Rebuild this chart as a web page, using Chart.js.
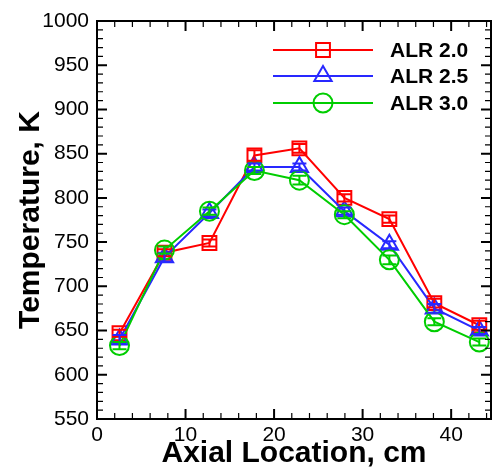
<!DOCTYPE html>
<html lang="en">
<head>
  <meta charset="UTF-8" />
  <title>Temperature vs Axial Location</title>
  <script src="https://cdn.jsdelivr.net/npm/chart.js"></script>
  <style>
    html, body { margin: 0; padding: 0; background: #fff; }
    canvas { display: block; }
  </style>
</head>
<body>
  <canvas id="chart" width="493" height="472"></canvas>

  <script>
    // measurement stations along the axis (cm)
    const axialLocation = [2.54, 7.62, 12.7, 17.78, 22.86, 27.94, 33.02, 38.1, 43.18];

    // temperatures (K) for each ALR
    const alr20 = [647, 738, 749, 848, 856, 800, 776, 681, 656];
    const alr25 = [640, 733, 783, 835, 835, 785, 747, 675, 650];
    const alr30 = [633, 741, 785, 831, 820, 781, 730, 660, 637];

    // half-width of the error bars (K)
    const err20 = [4, 4, 4, 6, 5, 4, 4, 5, 5];
    const err25 = [5, 5, 4, 4, 4, 4, 4, 5, 4];
    const err30 = [4, 4, 4, 4, 5, 4, 5, 4, 4];

    const seriesNames = ['ALR 2.0', 'ALR 2.5', 'ALR 3.0'];

    const FONT = "'Liberation Sans', Arial, sans-serif";
    const RED = 'rgb(255,0,0)';
    const BLUE = 'rgb(40,40,255)';
    const GREEN = 'rgb(0,205,0)';

    function pts(ys) {
      return ys.map((y, i) => ({ x: axialLocation[i], y: y }));
    }

    // same shapes as chart.js point styles, for the legend
    function drawMarker(ctx, style, x, y, r) {
      ctx.beginPath();
      if (style === 'rect') {
        const s = Math.SQRT1_2 * r;
        ctx.rect(x - s, y - s, 2 * s, 2 * s);
      } else if (style === 'triangle') {
        let rad = 0;
        ctx.moveTo(x + Math.sin(rad) * r, y - Math.cos(rad) * r);
        rad += 2 * Math.PI / 3;
        ctx.lineTo(x + Math.sin(rad) * r, y - Math.cos(rad) * r);
        rad += 2 * Math.PI / 3;
        ctx.lineTo(x + Math.sin(rad) * r, y - Math.cos(rad) * r);
        ctx.closePath();
      } else {
        ctx.arc(x, y, r, 0, Math.PI * 2);
      }
      ctx.stroke();
    }

    const errorBars = {
      id: 'errorBars',
      afterDatasetsDraw(chart) {
        const ctx = chart.ctx;
        const xs = chart.scales.x, ys = chart.scales.y;
        ctx.save();
        chart.data.datasets.forEach(ds => {
          ctx.strokeStyle = ds.borderColor;
          ctx.lineWidth = 2;
          ds.data.forEach((p, i) => {
            const e = ds.errors[i];
            const px = xs.getPixelForValue(p.x);
            const top = ys.getPixelForValue(p.y + e);
            const bot = ys.getPixelForValue(p.y - e);
            ctx.beginPath();
            ctx.moveTo(px, top); ctx.lineTo(px, bot);
            ctx.moveTo(px - 7, top); ctx.lineTo(px + 7, top);
            ctx.moveTo(px - 7, bot); ctx.lineTo(px + 7, bot);
            ctx.stroke();
          });
        });
        ctx.restore();
      }
    };

    // box around the plot with inward major/minor ticks on all sides
    const frameTicks = {
      id: 'frameTicks',
      afterDraw(chart) {
        const ctx = chart.ctx;
        const a = chart.chartArea;
        const xs = chart.scales.x, ys = chart.scales.y;
        ctx.save();
        ctx.strokeStyle = '#000';

        for (let v = 0; v <= xs.max + 1e-6; v += 2) {
          const px = xs.getPixelForValue(v);
          const major = v % 10 === 0;
          const len = major ? 10 : 6;
          ctx.lineWidth = major ? 2 : 1.2;
          ctx.beginPath();
          ctx.moveTo(px, a.bottom); ctx.lineTo(px, a.bottom - len);
          ctx.moveTo(px, a.top); ctx.lineTo(px, a.top + len);
          ctx.stroke();
        }
        for (let v = ys.min; v <= ys.max + 1e-6; v += 10) {
          const py = ys.getPixelForValue(v);
          const major = v % 50 === 0;
          const len = major ? 10 : 6;
          ctx.lineWidth = major ? 2 : 1.2;
          ctx.beginPath();
          ctx.moveTo(a.left, py); ctx.lineTo(a.left + len, py);
          ctx.moveTo(a.right, py); ctx.lineTo(a.right - len, py);
          ctx.stroke();
        }

        ctx.lineWidth = 2;
        ctx.strokeRect(a.left, a.top, a.right - a.left, a.bottom - a.top);
        ctx.restore();
      }
    };

    const lineLegend = {
      id: 'lineLegend',
      afterDraw(chart) {
        const ctx = chart.ctx;
        ctx.save();
        ctx.font = 'bold 21px ' + FONT;
        ctx.textBaseline = 'middle';
        ctx.textAlign = 'left';
        const rows = [50, 76, 103];
        seriesNames.forEach((name, k) => {
          const ds = chart.data.datasets.find(d => d.label === name);
          const y = rows[k];
          ctx.strokeStyle = ds.borderColor;
          ctx.lineWidth = 2;
          ctx.beginPath();
          ctx.moveTo(273, y); ctx.lineTo(373, y);
          ctx.stroke();
          drawMarker(ctx, ds.pointStyle, 323, y, ds.pointRadius);
          ctx.fillStyle = '#000';
          ctx.fillText(name, 390, y + 1);
        });
        ctx.restore();
      }
    };

    const ctx = document.getElementById('chart').getContext('2d');
    new Chart(ctx, {
      type: 'line',
      data: {
        datasets: [
          { label: 'ALR 2.0', data: pts(alr20), errors: err20, borderColor: RED,
            pointStyle: 'rect', pointRadius: 9.8, order: 3 },
          { label: 'ALR 2.5', data: pts(alr25), errors: err25, borderColor: BLUE,
            pointStyle: 'triangle', pointRadius: 10, order: 2 },
          { label: 'ALR 3.0', data: pts(alr30), errors: err30, borderColor: GREEN,
            pointStyle: 'circle', pointRadius: 9.5, order: 1 }
        ].map(d => Object.assign(d, {
          backgroundColor: 'rgba(0,0,0,0)',
          pointBackgroundColor: 'rgba(0,0,0,0)',
          pointBorderColor: d.borderColor,
          pointBorderWidth: 2,
          borderWidth: 2,
          tension: 0,
          fill: false
        }))
      },
      options: {
        responsive: false,
        animation: false,
        layout: {
          autoPadding: false,
          padding: { top: 21, right: 2, left: 0, bottom: 0 }
        },
        plugins: {
          legend: { display: false },
          tooltip: { enabled: false }
        },
        scales: {
          x: {
            type: 'linear',
            min: 0,
            max: 44.5,
            afterFit(scale) {
              scale.height = 53;
              scale.paddingLeft = 0;
              scale.paddingRight = 0;
            },
            grid: { display: false, drawTicks: false },
            border: { display: false },
            ticks: {
              stepSize: 10,
              includeBounds: false,
              autoSkip: false,
              maxRotation: 0,
              padding: 4,
              color: '#000',
              font: { family: FONT, size: 21 },
              callback: v => String(v)
            },
            title: {
              display: true,
              text: 'Axial Location, cm',
              color: '#000',
              font: { family: FONT, size: 30, weight: 'bold' },
              padding: { top: 0, bottom: 0 }
            }
          },
          y: {
            min: 550,
            max: 1000,
            afterFit(scale) { scale.width = 97; },
            grid: { display: false, drawTicks: false },
            border: { display: false },
            ticks: {
              stepSize: 50,
              padding: 8,
              color: '#000',
              font: { family: FONT, size: 21 },
              callback: v => String(v)
            },
            title: {
              display: true,
              text: 'Temperature, K',
              color: '#000',
              font: { family: FONT, size: 30, weight: 'bold' },
              padding: { top: 13, bottom: 0 }
            }
          }
        }
      },
      plugins: [errorBars, frameTicks, lineLegend]
    });
  </script>
</body>
</html>
